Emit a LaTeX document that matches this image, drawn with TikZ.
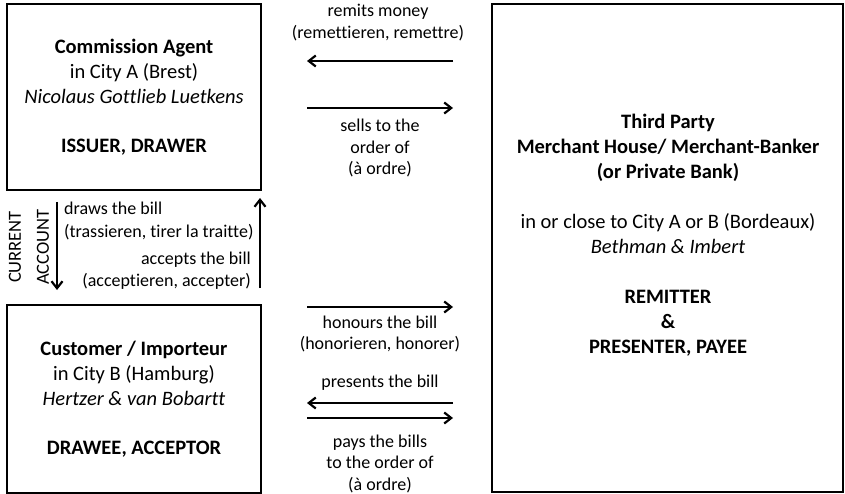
\documentclass[tikz,border=0pt]{standalone}
\usepackage{fontspec}
\setmainfont[Ligatures={NoCommon}]{Carlito}
\usetikzlibrary{arrows.meta}
\tikzset{
  box/.style={draw, line width=1.8pt, inner sep=0pt},
  boxtext/.style={align=center, font=\fontsize{20.5}{25}\selectfont, inner sep=0pt},
  midtext/.style={align=center, font=\fontsize{18}{21.5}\selectfont, inner sep=0pt},
  flow/.style={line width=2pt, -{Straight Barb[length=7pt,width=11pt,line width=2.2pt]}},
}
\begin{document}
\begin{tikzpicture}[x=1pt,y=-1pt]
\useasboundingbox (0,0) rectangle (845,494);
% boxes
\node[box, minimum width=254pt, minimum height=186pt] (A) at (134,97) {};
\node[box, minimum width=254pt, minimum height=188pt] (B) at (134,399) {};
\node[box, minimum width=351pt, minimum height=488pt] (C) at (667.5,248) {};
% box texts
\node[boxtext] (Atext) at (134,97.5) {\textbf{Commission Agent}\\ in City A (Brest)\\ \textit{Nicolaus Gottlieb Luetkens}\\[24pt] \textbf{ISSUER, DRAWER}};
\node[boxtext] (Btext) at (134,399) {\textbf{Customer / Importeur}\\ in City B (Hamburg)\\ \textit{Hertzer \& van Bobartt}\\[24pt] \textbf{DRAWEE, ACCEPTOR}};
\node[boxtext] (Ctext) at (668,235) {\textbf{Third Party}\\ \textbf{Merchant House/ Merchant-Banker}\\ \textbf{(or Private Bank)}\\[25pt] in or close to City A or B (Bordeaux)\\ \textit{Bethman \& Imbert}\\[25pt] \textbf{REMITTER}\\ \textbf{\&}\\ \textbf{PRESENTER, PAYEE}};
% middle coordinates
\coordinate (m1r) at (453,61); \coordinate (m1l) at (307,61);
\coordinate (m2l) at (307,108); \coordinate (m2r) at (453,108);
\coordinate (m3l) at (307,307); \coordinate (m3r) at (453,307);
\coordinate (m4r) at (453,403); \coordinate (m4l) at (307,403);
\coordinate (m5l) at (307,418); \coordinate (m5r) at (453,418);
\draw[flow] (m1r) -- (m1l);
\draw[flow] (m2l) -- (m2r);
\draw[flow] (m3l) -- (m3r);
\draw[flow] (m4r) -- (m4l);
\draw[flow] (m5l) -- (m5r);
% middle labels
\node[midtext] (t1) at (378,22.5) {remits money\\ (remettieren, remettre)};
\node[midtext] (t2) at (380,148.5) {sells to the\\ order of\\ (à ordre)};
\node[midtext] (t3) at (380,334) {honours the bill\\ (honorieren, honorer)};
\node[midtext] (t4) at (380,383) {presents the bill};
\node[midtext] (t5) at (380,463.5) {pays the bills\\ to the order of\\ (à ordre)};
% vertical arrows
\coordinate (d1) at (57,202); \coordinate (d2) at (57,290);
\coordinate (u1) at (260,288); \coordinate (u2) at (260,198);
\draw[flow] (d1) -- (d2);
\draw[flow] (u1) -- (u2);
\node[midtext, rotate=90, font=\fontsize{18.5}{28}\selectfont] (ca) at (29,247) {CURRENT\\ ACCOUNT};
\node[midtext, align=left, anchor=west, font=\fontsize{18}{23}\selectfont] (dr) at (64,220.5) {draws the bill\\ (trassieren, tirer la traitte)};
\node[midtext, align=right, anchor=east, font=\fontsize{18}{22}\selectfont] (ac) at (251,271) {accepts the bill\\ (acceptieren, accepter)};
\end{tikzpicture}
\end{document}
